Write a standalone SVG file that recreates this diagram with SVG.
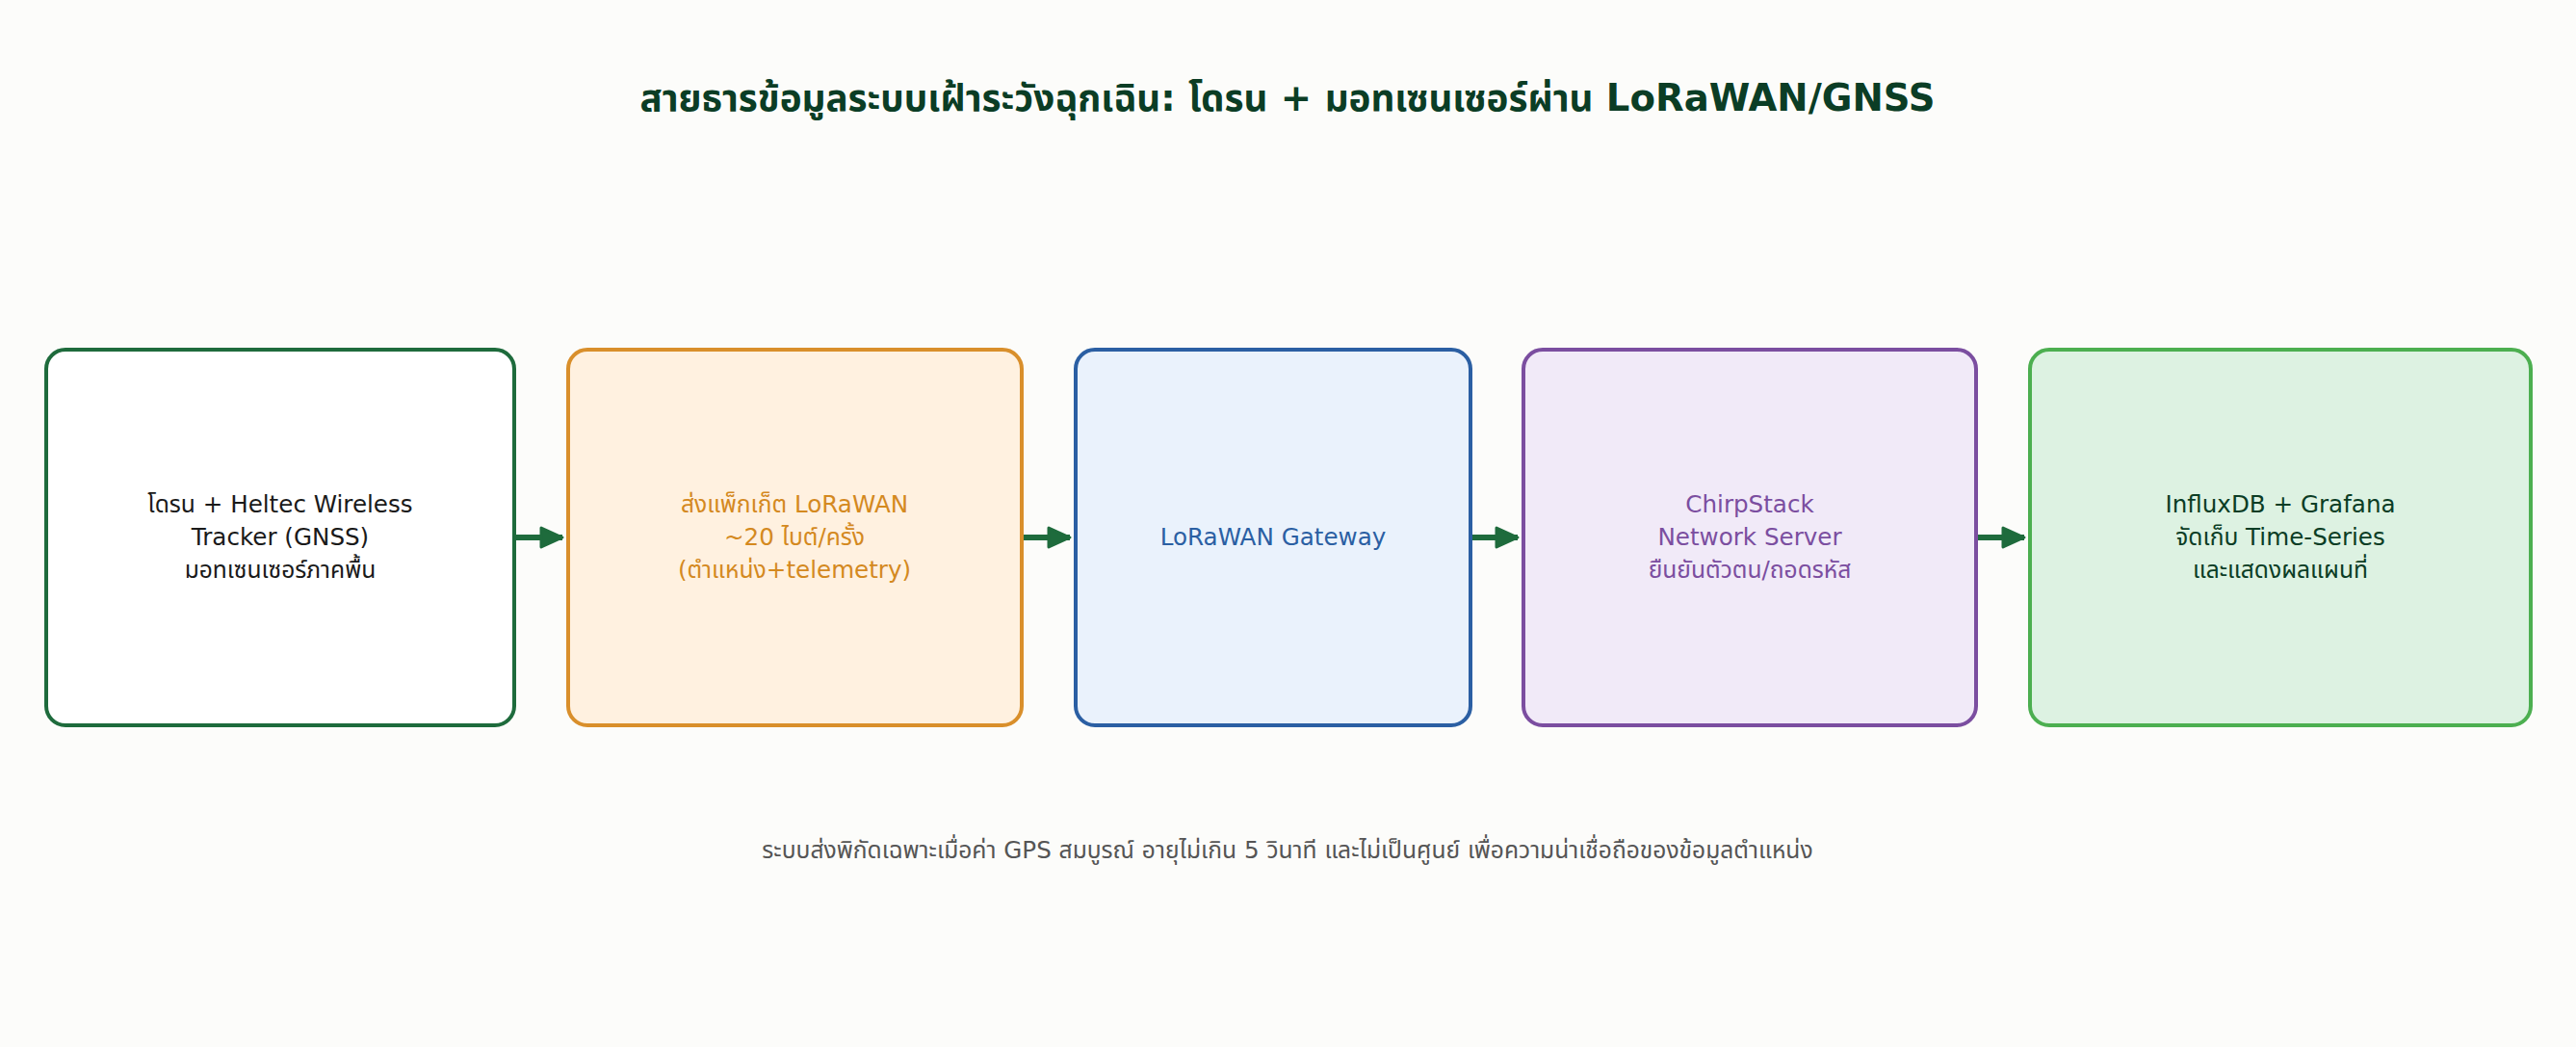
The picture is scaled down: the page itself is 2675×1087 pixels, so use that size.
<svg xmlns="http://www.w3.org/2000/svg" width="2675" height="1087" viewBox="0 0 2675 1087">
<style>
text{font-family:"DejaVu Sans","Noto Sans Thai","Noto Sans Thai UI","Noto Sans",sans-serif;text-anchor:middle}
.title{font-size:38.6px;font-weight:bold;fill:#0b3d25}
.lbl{font-size:24.6px}
.note{font-size:24.6px;fill:#555555}
.box{stroke-width:4}
.conn{stroke:#1e6b3c;stroke-width:6;fill:none}
</style>
<defs>
<marker id="ah" markerUnits="userSpaceOnUse" markerWidth="30" markerHeight="30" refX="24" refY="12" orient="auto" viewBox="0 0 30 24">
<path d="M2,2 L24,12 L2,22 Z" fill="#1e6b3c" stroke="#1e6b3c" stroke-width="3" stroke-linejoin="round"/>
</marker>
</defs>
<rect width="2675" height="1087" fill="#fcfcfa"/>
<text class="title" x="1337" y="115">สายธารข้อมูลระบบเฝ้าระวังฉุกเฉิน: โดรน + มอทเซนเซอร์ผ่าน LoRaWAN/GNSS</text>
<g id="connectors">
<line class="conn" x1="536" y1="558" x2="584" y2="558" marker-end="url(#ah)"/>
<line class="conn" x1="1063" y1="558" x2="1111" y2="558" marker-end="url(#ah)"/>
<line class="conn" x1="1529" y1="558" x2="1576" y2="558" marker-end="url(#ah)"/>
<line class="conn" x1="2054" y1="558" x2="2102" y2="558" marker-end="url(#ah)"/>
</g>
<g id="node1">
<rect class="box" x="48" y="363" width="486" height="390" rx="20" fill="#ffffff" stroke="#1e6b3c"/>
<text class="lbl" fill="#1a1a1a"><tspan x="291" y="532">โดรน + Heltec Wireless</tspan><tspan x="291" y="566">Tracker (GNSS)</tspan><tspan x="291" y="600">มอทเซนเซอร์ภาคพื้น</tspan></text>
</g>
<g id="node2">
<rect class="box" x="590" y="363" width="471" height="390" rx="20" fill="#fff1e0" stroke="#d98f2b"/>
<text class="lbl" fill="#d4891f"><tspan x="825" y="532">ส่งแพ็กเก็ต LoRaWAN</tspan><tspan x="825" y="566">~20 ไบต์/ครั้ง</tspan><tspan x="825" y="600">(ตำแหน่ง+telemetry)</tspan></text>
</g>
<g id="node3">
<rect class="box" x="1117" y="363" width="410" height="390" rx="20" fill="#eaf2fc" stroke="#2b5fa3"/>
<text class="lbl" fill="#2b5fa3" x="1322" y="566">LoRaWAN Gateway</text>
</g>
<g id="node4">
<rect class="box" x="1582" y="363" width="470" height="390" rx="20" fill="#f1eaf8" stroke="#7b4ea0"/>
<text class="lbl" fill="#7b4ea0"><tspan x="1817" y="532">ChirpStack</tspan><tspan x="1817" y="566">Network Server</tspan><tspan x="1817" y="600">ยืนยันตัวตน/ถอดรหัส</tspan></text>
</g>
<g id="node5">
<rect class="box" x="2108" y="363" width="520" height="390" rx="20" fill="#ddf2e2" stroke="#4caf50"/>
<text class="lbl" fill="#0b3d25"><tspan x="2368" y="532">InfluxDB + Grafana</tspan><tspan x="2368" y="566">จัดเก็บ Time-Series</tspan><tspan x="2368" y="600">และแสดงผลแผนที่</tspan></text>
</g>
<text class="note" x="1337" y="891">ระบบส่งพิกัดเฉพาะเมื่อค่า GPS สมบูรณ์ อายุไม่เกิน 5 วินาที และไม่เป็นศูนย์ เพื่อความน่าเชื่อถือของข้อมูลตำแหน่ง</text>
</svg>
